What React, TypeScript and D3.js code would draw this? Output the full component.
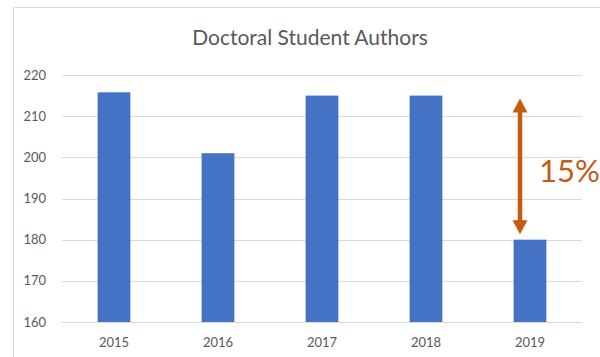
import React from "react";
import * as d3 from "d3";

const years = ["2015", "2016", "2017", "2018", "2019"];
const authors = [215.8, 201, 215, 215, 180];
const yTicks = [160, 170, 180, 190, 200, 210, 220];
const chartTitle = "Doctoral Student Authors";
const annotationLabel = "15%";
const arrowFrom = 214.3;
const arrowTo = 181.3;

const W = 600;
const H = 357;
const FONT = "Lato, 'Open Sans', sans-serif";

export default function App() {
  const x = d3.scaleBand<string>().domain(years).range([62, 582]).paddingInner(0.685).paddingOuter(0.3425);
  const y = d3.scaleLinear().domain([160, 220]).range([322, 75]);
  const orange = "#C55A11";
  const lastX = (x("2019") as number) + x.bandwidth() / 2 - 10;
  const yTop = y(arrowFrom);
  const yBot = y(arrowTo);
  const head = 14;
  const hw = 7.5;

  return (
    <div style={{ position: "fixed", left: 0, top: 0 }}>
      <svg width={W} height={H} style={{ display: "block", background: "#fff" }}>
        <path d={`M13.5,${H} V7.5 H${W}`} fill="none" stroke="#d9d9d9" strokeWidth={1} />
        <text x={310} y={45} textAnchor="middle" fontFamily={FONT} fontSize={21} fill="#595959">
          {chartTitle}
        </text>
        {yTicks.map((t) => (
          <g key={t}>
            <line x1={62} x2={582} y1={Math.round(y(t)) + 0.5} y2={Math.round(y(t)) + 0.5} stroke="#d9d9d9" strokeWidth={1} />
            <text x={46} y={y(t)} dy="0.35em" textAnchor="end" fontFamily={FONT} fontSize={13} fill="#595959">
              {t}
            </text>
          </g>
        ))}
        {years.map((yr, i) => (
          <rect
            key={yr}
            x={x(yr)}
            y={y(authors[i])}
            width={x.bandwidth()}
            height={y(160) - y(authors[i])}
            fill="#4472C4"
          />
        ))}
        {years.map((yr) => (
          <text
            key={yr}
            x={(x(yr) as number) + x.bandwidth() / 2}
            y={347}
            textAnchor="middle"
            fontFamily={FONT}
            fontSize={13}
            fill="#595959"
          >
            {yr}
          </text>
        ))}
        <line x1={lastX} x2={lastX} y1={yTop + head - 1} y2={yBot - head + 1} stroke={orange} strokeWidth={4.5} />
        <path d={`M${lastX},${yTop} L${lastX + hw},${yTop + head} L${lastX - hw},${yTop + head} Z`} fill={orange} />
        <path d={`M${lastX},${yBot} L${lastX + hw},${yBot - head} L${lastX - hw},${yBot - head} Z`} fill={orange} />
        <text x={539} y={182} fontFamily={FONT} fontSize={31} fill={orange}>
          {annotationLabel}
        </text>
      </svg>
    </div>
  );
}
